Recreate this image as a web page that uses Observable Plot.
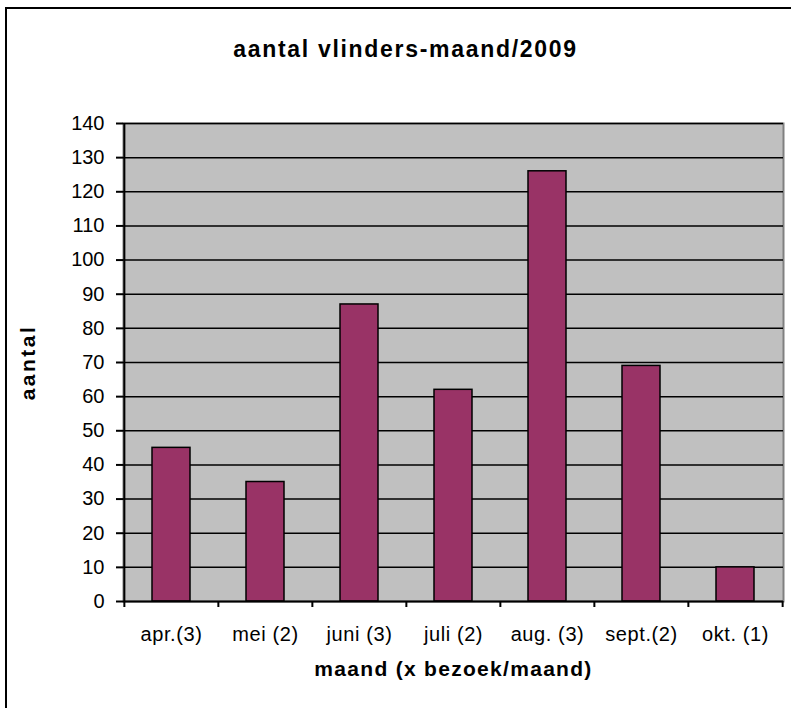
<!DOCTYPE html>
<html>
<head>
<meta charset="utf-8">
<script src="https://cdn.jsdelivr.net/npm/d3@7"></script>
<script src="https://cdn.jsdelivr.net/npm/@observablehq/plot@0.6"></script>
<style>
  html, body { margin: 0; padding: 0; background: #fff; width: 791px; height: 708px; overflow: hidden; }
  #wrap { position: relative; width: 791px; height: 708px; }
  #border { position: absolute; left: 5px; top: 7px; width: 900px; height: 900px; border-left: 2px solid #000; border-top: 2px solid #000; box-sizing: border-box; }
  #chart { position: absolute; left: 0; top: 0; }
</style>
</head>
<body>
<div id="wrap"><div id="border"></div><div id="chart"></div></div>
<script>
const months = ["apr.(3)", "mei (2)", "juni (3)", "juli (2)", "aug. (3)", "sept.(2)", "okt. (1)"];
const counts = [45, 35, 87, 62, 126, 69, 10];
const yTicks = [0, 10, 20, 30, 40, 50, 60, 70, 80, 90, 100, 110, 120, 130, 140];
const chartTitle = "aantal vlinders-maand/2009";
const xTitle = "maand (x bezoek/maand)";
const yTitle = "aantal";

const data = months.map((m, i) => ({maand: m, aantal: counts[i]}));

const W = 791, H = 708, mL = 123, mR = 8, mT = 123, mB = 107;
const step = (W - mL - mR) / months.length;

const chart = Plot.plot({
  width: W, height: H,
  marginLeft: mL, marginRight: mR, marginTop: mT, marginBottom: mB,
  style: {fontFamily: "'Liberation Sans', Arial, sans-serif", fontSize: "20px", color: "#000", background: "transparent", overflow: "visible"},
  x: {domain: months, paddingInner: 0.6, paddingOuter: 0.3, label: null},
  y: {domain: [0, 140], label: null},
  marks: [
    Plot.frame({fill: "#c0c0c0", stroke: "#808080", strokeWidth: 2}),
    Plot.ruleY(yTicks.filter(d => d > 0), {stroke: "#000", strokeWidth: 1.5}),
    Plot.barY(data, {x: "maand", y: "aantal", fill: "#993366", stroke: "#000", strokeWidth: 1.5}),
    Plot.ruleY([0], {stroke: "#000", strokeWidth: 2}),
    Plot.ruleX([months[0]], {dx: -step / 2, stroke: "#000", strokeWidth: 2}),
    Plot.axisY({ticks: yTicks, tickSize: 7, tickPadding: 12, strokeWidth: 2, label: null, fontSize: 20}),
    Plot.axisX({ticks: months, tickSize: 6, tickFormat: () => "", dx: -step / 2, strokeWidth: 2, label: null}),
    Plot.axisX({ticks: [months[months.length - 1]], tickSize: 6, tickFormat: () => "", dx: step / 2, strokeWidth: 2, label: null}),
    Plot.axisX({ticks: months, tickSize: 0, tickPadding: 25, label: null, fontSize: 20, className: "xlab"}),
    Plot.text([xTitle], {text: d => d, frameAnchor: "bottom", dy: 74, fontWeight: "bold", fontSize: 21, className: "xttl"}),
    Plot.text([yTitle], {text: d => d, frameAnchor: "left", textAnchor: "middle", dx: -95, rotate: -90, fontWeight: "bold", fontSize: 21, className: "yttl"}),
    Plot.text([chartTitle], {text: d => d, frameAnchor: "top", dx: -48, dy: -83, fontWeight: "bold", fontSize: 23, className: "ttl"})
  ]
});
const sel = d3.select(chart);
sel.selectAll(".ttl text").style("letter-spacing", "1.7px");
sel.selectAll(".xttl text").style("letter-spacing", "1.3px");
sel.selectAll(".yttl text").style("letter-spacing", "2.5px");
sel.selectAll(".xlab text").style("letter-spacing", "0.6px");
document.getElementById("chart").appendChild(chart);
</script>
</body>
</html>
